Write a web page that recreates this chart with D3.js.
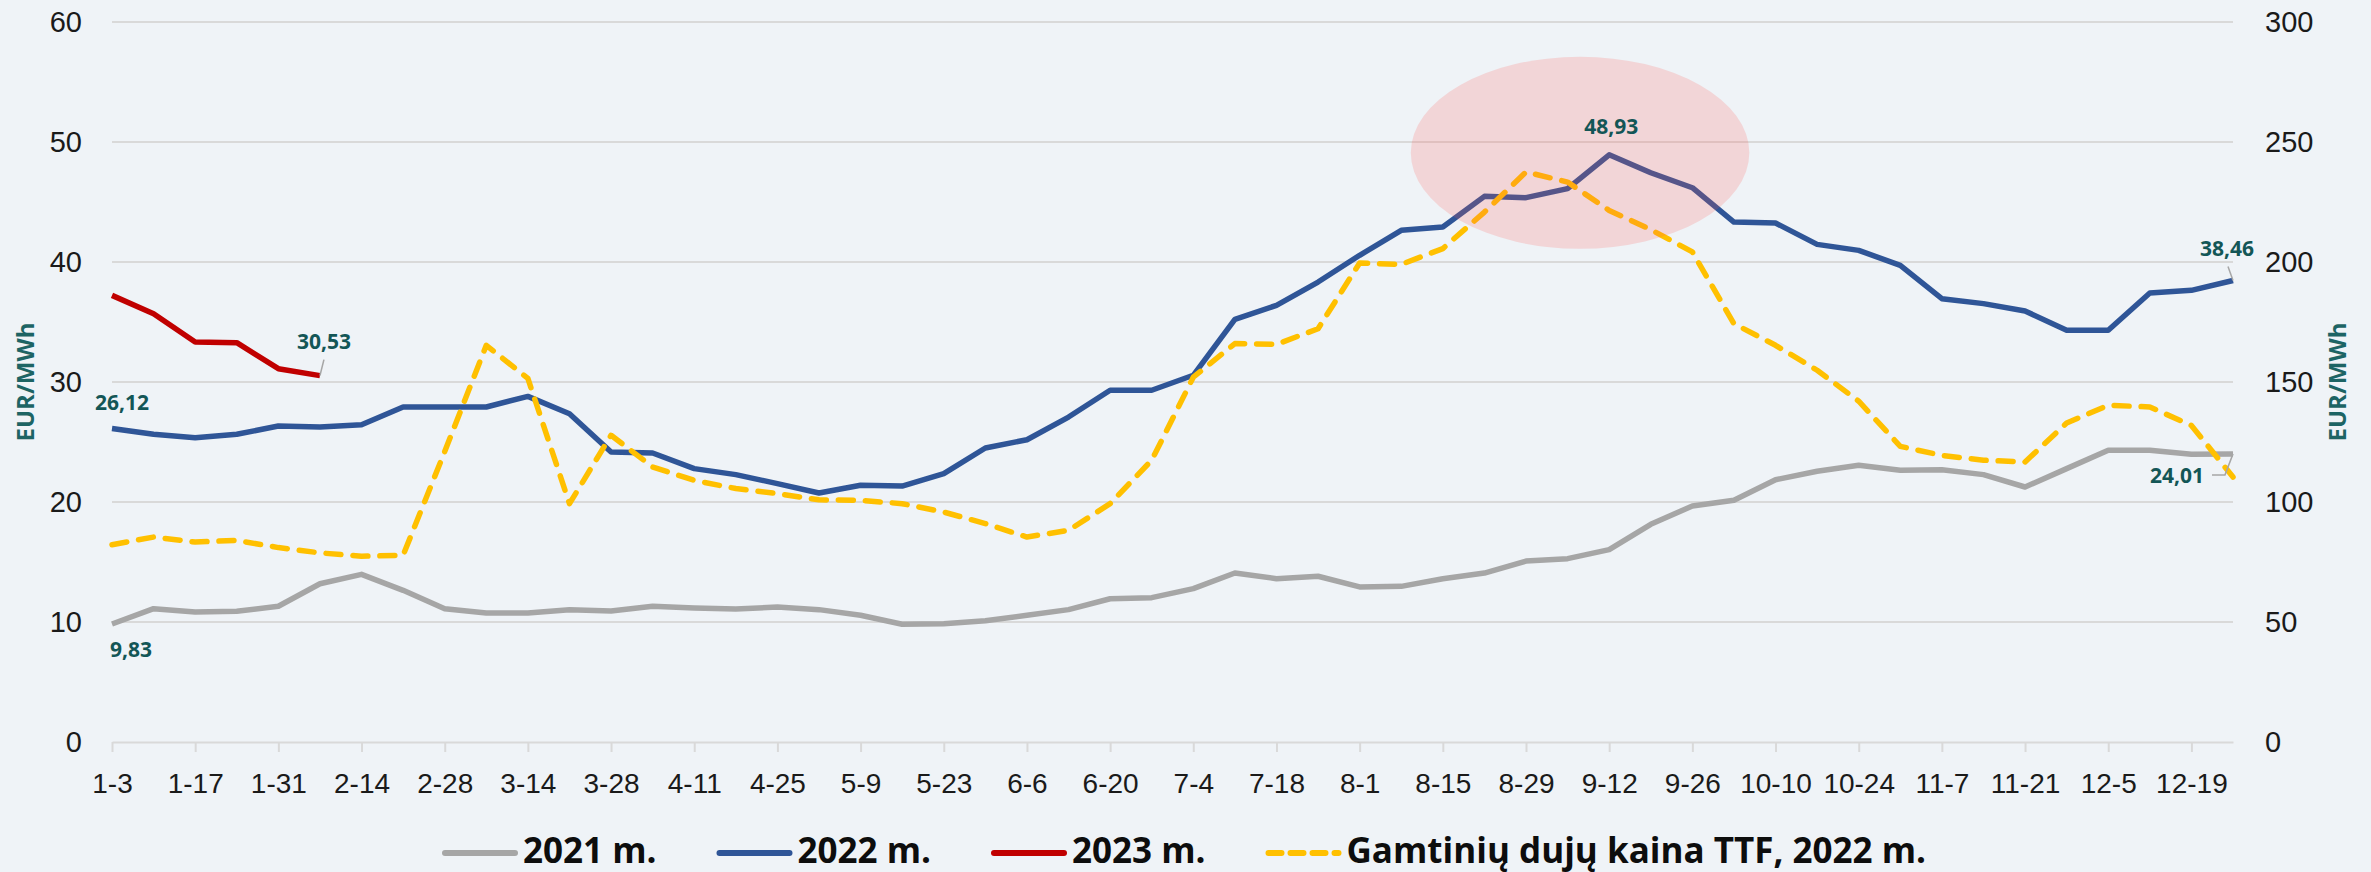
<!DOCTYPE html>
<html>
<head>
<meta charset="utf-8">
<script src="https://cdn.jsdelivr.net/npm/d3@7"></script>
<style>
  html, body { margin: 0; padding: 0; background: #eff3f7; }
  svg { display: block; font-family: "Open Sans", "Noto Sans", sans-serif; }
</style>
</head>
<body>
<div id="chart"></div>
<script>
// Week labels (x categories, 2022 weeks)
var weeks = ["1-3","1-10","1-17","1-24","1-31","2-7","2-14","2-21","2-28","3-7","3-14","3-21","3-28",
  "4-4","4-11","4-18","4-25","5-2","5-9","5-16","5-23","5-30","6-6","6-13","6-20","6-27",
  "7-4","7-11","7-18","7-25","8-1","8-8","8-15","8-22","8-29","9-5","9-12","9-19","9-26",
  "10-3","10-10","10-17","10-24","10-31","11-7","11-14","11-21","11-28","12-5","12-12","12-19","12-26"];

// Left axis series, EUR/MWh
var values2021 = [9.83,11.11,10.83,10.89,11.31,13.19,13.97,12.64,11.11,10.75,10.75,11.03,10.92,
  11.31,11.17,11.08,11.25,11.03,10.56,9.81,9.86,10.1,10.56,11.03,11.94,12.03,
  12.78,14.08,13.61,13.81,12.92,12.97,13.61,14.08,15.08,15.28,16.03,18.14,19.67,
  20.14,21.86,22.56,23.06,22.64,22.69,22.28,21.25,22.78,24.31,24.31,23.97,24.01];

var values2022 = [26.12,25.64,25.36,25.64,26.33,26.25,26.44,27.92,27.92,27.92,28.8,27.36,24.17,
  24.08,22.78,22.28,21.53,20.75,21.39,21.33,22.36,24.5,25.19,27.08,29.31,29.31,
  30.56,35.22,36.39,38.33,40.56,42.64,42.92,45.47,45.36,46.11,48.93,47.44,46.19,
  43.33,43.25,41.47,40.97,39.72,36.94,36.53,35.92,34.31,34.31,37.42,37.64,38.46];

var values2023 = [37.22,35.69,33.33,33.28,31.11,30.53];

// Right axis series, TTF gas price
var valuesTTF = [82.2,85.4,83.3,84.0,81.0,78.8,77.4,77.8,121,165.3,151.5,99.3,127.8,
  114.6,109,105.6,103.5,100.9,100.7,99.3,95.8,91.0,85.4,88.2,99.3,117.4,
  152,166,165.7,172.2,199.6,199,205.6,220.8,237.5,233.3,221.5,213.5,204.2,
  174.3,165.3,154.9,142,123.2,119.4,117.4,116.7,132.9,140.3,139.6,131.9,110.4];

var leftTicks = [0,10,20,30,40,50,60];
var rightTicks = [0,50,100,150,200,250,300];
var legendNames = ["2021 m.","2022 m.","2023 m.","Gamtinių dujų kaina TTF, 2022 m."];

var width = 2371, height = 872;
var plot = { left: 112, right: 2233, top: 22, bottom: 742 };

var svg = d3.select("#chart").append("svg")
    .attr("width", width)
    .attr("height", height);

svg.append("rect").attr("width", width).attr("height", height).attr("fill", "#eff3f7");

var x = d3.scalePoint().domain(weeks).range([plot.left, plot.right]);
var yL = d3.scaleLinear().domain([0, 60]).range([plot.bottom, plot.top]);
var yR = d3.scaleLinear().domain([0, 300]).range([plot.bottom, plot.top]);

// gridlines
svg.append("g").selectAll("line")
    .data(leftTicks.slice(1))
    .enter().append("line")
    .attr("x1", plot.left).attr("x2", plot.right)
    .attr("y1", d => yL(d)).attr("y2", d => yL(d))
    .attr("stroke", "#d9d9d9").attr("stroke-width", 2);

// axes
var gx = svg.append("g")
    .attr("transform", "translate(0," + plot.bottom + ")")
    .call(d3.axisBottom(x).tickValues(weeks.filter((d, i) => i % 2 === 0)).tickSize(10).tickSizeOuter(0).tickPadding(21));
gx.select(".domain").attr("stroke", "#d9d9d9").attr("stroke-width", 2);
gx.selectAll(".tick line").attr("stroke", "#d9d9d9").attr("stroke-width", 2);
gx.selectAll("text").style("font-size", "28px").attr("fill", "#1a1a1a");

var gl = svg.append("g")
    .attr("transform", "translate(" + plot.left + ",0)")
    .call(d3.axisLeft(yL).tickValues(leftTicks).tickSize(0).tickPadding(30));
gl.select(".domain").remove();
gl.selectAll("text").style("font-size", "29px").attr("fill", "#1a1a1a");

var gr = svg.append("g")
    .attr("transform", "translate(" + plot.right + ",0)")
    .call(d3.axisRight(yR).tickValues(rightTicks).tickSize(0).tickPadding(32));
gr.select(".domain").remove();
gr.selectAll("text").style("font-size", "29px").attr("fill", "#1a1a1a");

// axis titles
[[26, "rotate(-90)"], [2338, "rotate(-90)"]].forEach(function(t) {
  svg.append("text")
      .attr("transform", "translate(" + t[0] + ",382) " + t[1])
      .attr("text-anchor", "middle")
      .attr("dy", "0.35em")
      .style("font-size", "24px")
      .style("font-weight", "bold")
      .attr("fill", "#1d6464")
      .text("EUR/MWh");
});

// lines
var lineL = d3.line().x((d, i) => x(weeks[i])).y(d => yL(d));
var lineR = d3.line().x((d, i) => x(weeks[i])).y(d => yR(d));

var series = [
  { data: values2021, gen: lineL, color: "#a6a6a6", dash: null },
  { data: values2022, gen: lineL, color: "#2f5597", dash: null },
  { data: values2023, gen: lineL, color: "#c00000", dash: null },
  { data: valuesTTF, gen: lineR, color: "#ffc000", dash: "15 12" }
];

series.forEach(function(s) {
  svg.append("path")
      .datum(s.data)
      .attr("d", s.gen)
      .attr("fill", "none")
      .attr("stroke", s.color)
      .attr("stroke-width", 5.5)
      .attr("stroke-linejoin", "round")
      .attr("stroke-linecap", s.dash ? "round" : "butt")
      .attr("stroke-dasharray", s.dash);
});

// highlight ellipse around the 2022 peak (index 35.3, value 49.1)
var step = x.step();
svg.append("ellipse")
    .attr("cx", x(weeks[35]) + 0.3 * step)
    .attr("cy", yL(49.1))
    .attr("rx", 4.07 * step)
    .attr("ry", yL(41.1) - yL(49.1))
    .attr("fill", "#ff5352")
    .attr("fill-opacity", 0.19);

// data labels
function fmt(v) { return v.toFixed(2).replace(".", ","); }
var labels = [
  { i: 0, v: values2021[0], dx: 19, dy: 33, leader: null },
  { i: 0, v: values2022[0], dx: 10, dy: -19, leader: null },
  { i: 5, v: values2023[5], dx: 4, dy: -27, leader: [[4, -16], [0, 0]] },
  { i: 36, v: values2022[36], dx: 2, dy: -21, leader: null },
  { i: 51, v: values2022[51], dx: -6, dy: -24, leader: [[-5, -14], [0, 0]] },
  { i: 51, v: values2021[51], dx: -56, dy: 29, leader: [[-21, 21], [-8, 21], [0, 0]] }
];

labels.forEach(function(l) {
  var px = x(weeks[l.i]), py = yL(l.v);
  if (l.leader) {
    svg.append("path")
        .attr("d", d3.line()(l.leader.map(p => [px + p[0], py + p[1]])))
        .attr("fill", "none")
        .attr("stroke", "#a6a6a6")
        .attr("stroke-width", 1.5);
  }
  svg.append("text")
      .attr("x", px + l.dx)
      .attr("y", py + l.dy)
      .attr("text-anchor", "middle")
      .style("font-size", "21px")
      .style("font-weight", "bold")
      .attr("fill", "#135656")
      .text(fmt(l.v));
});

// legend
var legend = svg.append("g");
var lx = 0, lineLen = 70, gap = 8, itemGap = 63;
series.forEach(function(s, i) {
  var g = legend.append("g").attr("transform", "translate(" + lx + ",0)");
  g.append("line")
      .attr("x1", 0).attr("x2", lineLen)
      .attr("y1", -10).attr("y2", -10)
      .attr("stroke", s.color)
      .attr("stroke-width", 6)
      .attr("stroke-linecap", "round")
      .attr("stroke-dasharray", s.dash ? "13 9" : null);
  var t = g.append("text")
      .attr("x", lineLen + gap)
      .attr("y", 0)
      .style("font-size", "35px")
      .style("font-weight", "bold")
      .attr("fill", "#0d0d0d")
      .text(legendNames[i]);
  lx += lineLen + gap + t.node().getComputedTextLength() + itemGap;
});
var legendW = lx - itemGap;
legend.attr("transform", "translate(" + (width / 2 - legendW / 2) + ",863)");
</script>
</body>
</html>
